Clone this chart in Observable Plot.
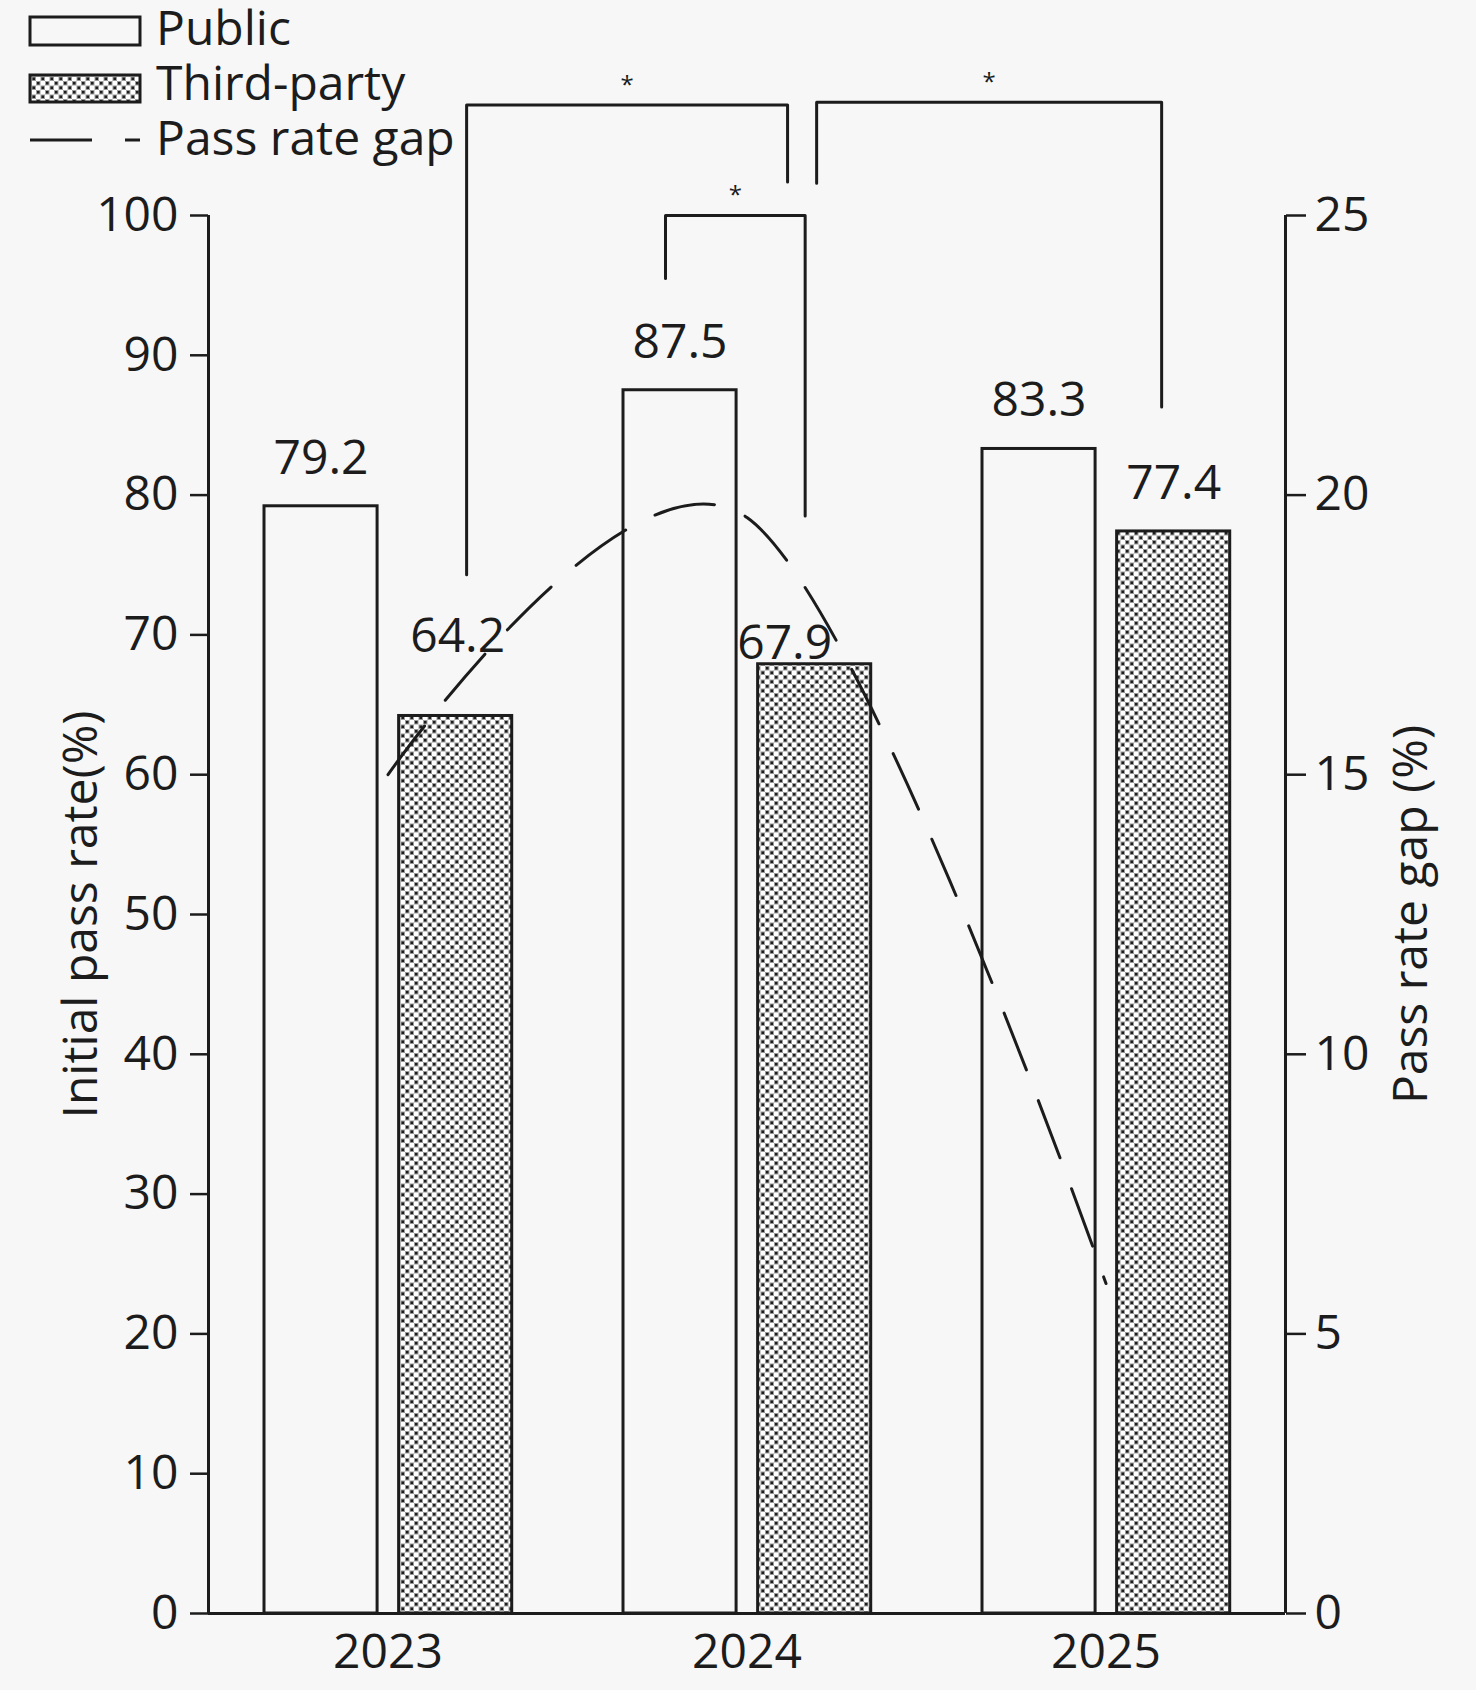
<!DOCTYPE html>
<html>
<head>
<meta charset="utf-8">
<script src="https://cdn.jsdelivr.net/npm/d3@7"></script>
<script src="https://cdn.jsdelivr.net/npm/@observablehq/plot@0.6"></script>
<style>
  html, body { margin: 0; padding: 0; background: #f7f7f7; }
  #wrap { position: relative; width: 1476px; height: 1690px; }
  #legend { position: absolute; left: 0; top: 0; font-family: "Open Sans", sans-serif; font-size: 48px; }
</style>
</head>
<body>
<div id="wrap">
  <div id="chart"></div>
  <svg id="legend" width="470" height="175"></svg>
</div>
<script>
// ---------- data ----------
const years = ["2023", "2024", "2025"];
const publicRate = [79.2, 87.5, 83.3];
const thirdPartyRate = [64.2, 67.9, 77.4];
const passRateGap = [15.0, 19.6, 5.9];          // right axis (%)
const leftTicks = [0, 10, 20, 30, 40, 50, 60, 70, 80, 90, 100];
const rightTicks = [0, 5, 10, 15, 20, 25];
const seriesNames = ["Public", "Third-party", "Pass rate gap"];
const axisTitles = ["Initial pass rate(%)", "Pass rate gap (%)"];

// significance brackets (x in year-slot units, y in left-axis %)
const bracketX1 = [0.719, 1.694, 1.273];
const bracketX2 = [1.613, 2.655, 1.662];
const bracketTop = [107.9, 108.1, 100.0];
const bracketEnd1 = [74.3, 102.3, 95.5];
const bracketEnd2 = [102.4, 86.3, 78.5];
const bracketMark = ["*", "*", "*"];

// ---------- derived tables ----------
const RIGHT_FACTOR = 100 / 25;
const bars = years.flatMap((y, i) => [
  {year: y, i, type: "Public", value: publicRate[i], x1: i + 0.156, x2: i + 0.471},
  {year: y, i, type: "Third-party", value: thirdPartyRate[i], x1: i + 0.531, x2: i + 0.846}
]);
const gapData = years.map((y, i) => ({year: y, i, gap: passRateGap[i]}));
const bracketPts = bracketX1.flatMap((x1, k) => [
  {k, x: x1, y: bracketEnd1[k]},
  {k, x: x1, y: bracketTop[k]},
  {k, x: bracketX2[k], y: bracketTop[k]},
  {k, x: bracketX2[k], y: bracketEnd2[k]}
]);
const bracketLabels = bracketX1.map((x1, k) => ({x: (x1 + bracketX2[k]) / 2, y: bracketTop[k], t: bracketMark[k]}));

const INK = "#1c1c1c";
const BG = "#f7f7f7";

function patternSVG(id) {
  return `<pattern id="${id}" patternUnits="userSpaceOnUse" width="9" height="9">
    <rect width="9" height="9" fill="#ffffff"/>
    <rect x="0" y="0" width="4.5" height="4.5" fill="#9a9a9a"/>
    <rect x="4.5" y="4.5" width="4.5" height="4.5" fill="#9a9a9a"/>
    <rect x="1" y="1" width="2.5" height="2.5" fill="#1e1e1e"/>
    <rect x="5.5" y="5.5" width="2.5" height="2.5" fill="#1e1e1e"/>
  </pattern>`;
}

const defsMark = () => {
  const g = document.createElementNS("http://www.w3.org/2000/svg", "defs");
  g.innerHTML = patternSVG("checker");
  return g;
};

const isAdj = (d) => (d.type === "Third-party" && (d.i === 0 || d.i === 1));

const chart = Plot.plot({
  width: 1476,
  height: 1690,
  marginLeft: 208,
  marginRight: 191,
  marginTop: 215,
  marginBottom: 77,
  x: {domain: [0, 3], axis: null},
  y: {domain: [0, 100], axis: null},
  style: {background: BG, fontFamily: "'Open Sans', sans-serif", fontSize: "48px", color: INK},
  marks: [
    defsMark,
    // bars
    Plot.rectY(bars.filter(d => d.type === "Public"), {x1: "x1", x2: "x2", y: "value", fill: BG, stroke: INK, strokeWidth: 3}),
    Plot.rectY(bars.filter(d => d.type === "Third-party"), {x1: "x1", x2: "x2", y: "value", fill: "url(#checker)", stroke: INK, strokeWidth: 3}),
    // axes lines
    Plot.ruleX([0, 3], {y1: 0, y2: 100, stroke: INK, strokeWidth: 3}),
    Plot.ruleY([0], {stroke: INK, strokeWidth: 3}),
    Plot.axisY({anchor: "left", ticks: leftTicks, tickSize: 18, tickPadding: 12, label: null, strokeWidth: 2.5, fontSize: 48}),
    Plot.axisY({anchor: "right", ticks: rightTicks.map(d => d * RIGHT_FACTOR), tickFormat: d => d / RIGHT_FACTOR, tickSize: 20, tickPadding: 9, label: null, strokeWidth: 2.5, fontSize: 48}),
    Plot.axisX({ticks: years.map((_, i) => i + 0.5), tickFormat: d => years[Math.floor(d)], tickSize: 0, tickPadding: 20, label: null, fontSize: 48}),
    // axis titles
    Plot.text([axisTitles[0]], {frameAnchor: "left", dx: -127, rotate: -90, textAnchor: "middle", lineAnchor: "middle", fontSize: 48, fill: INK}),
    Plot.text([axisTitles[1]], {frameAnchor: "right", dx: 126, rotate: -90, textAnchor: "middle", lineAnchor: "middle", fontSize: 48, fill: INK}),
    // gap line (right axis mapped onto left scale)
    Plot.line(gapData, {x: d => d.i + 0.5, y: d => d.gap * RIGHT_FACTOR, curve: "cardinal", stroke: INK, strokeWidth: 3, strokeDasharray: "61,33"}),
    // value labels
    Plot.text(bars.filter(d => !isAdj(d)), {x: d => (d.x1 + d.x2) / 2, y: "value", text: d => d.value.toFixed(1), dy: -48, fontSize: 48, fill: INK}),
    Plot.text(bars.filter(d => d.type === "Third-party" && d.i === 0), {x: d => (d.x1 + d.x2) / 2, y: "value", text: d => d.value.toFixed(1), dy: -79, dx: 2, fontSize: 48, fill: INK}),
    Plot.text(bars.filter(d => d.type === "Third-party" && d.i === 1), {x: d => (d.x1 + d.x2) / 2, y: "value", text: d => d.value.toFixed(1), dy: -21, dx: -30, fontSize: 48, fill: INK}),
    // significance brackets
    Plot.line(bracketPts, {x: "x", y: "y", z: "k", stroke: INK, strokeWidth: 3, curve: "linear"}),
    Plot.text(bracketLabels, {x: "x", y: "y", text: "t", dy: -20, fontSize: 24, fill: INK})
  ]
});
document.getElementById("chart").appendChild(chart);

// ---------- legend ----------
const leg = document.getElementById("legend");
const baselines = [45, 100, 155];
let html = `<defs>${patternSVG("checkerL")}</defs>`;
html += `<rect x="30" y="17" width="110" height="28" fill="${BG}" stroke="${INK}" stroke-width="3"/>`;
html += `<rect x="30" y="75" width="110" height="27" fill="url(#checkerL)" stroke="${INK}" stroke-width="3"/>`;
html += `<line x1="30" x2="140" y1="140" y2="140" stroke="${INK}" stroke-width="3" stroke-dasharray="62,33"/>`;
seriesNames.forEach((s, k) => {
  html += `<text x="156" y="${baselines[k]}" fill="${INK}">${s}</text>`;
});
leg.innerHTML = html;
</script>
</body>
</html>
